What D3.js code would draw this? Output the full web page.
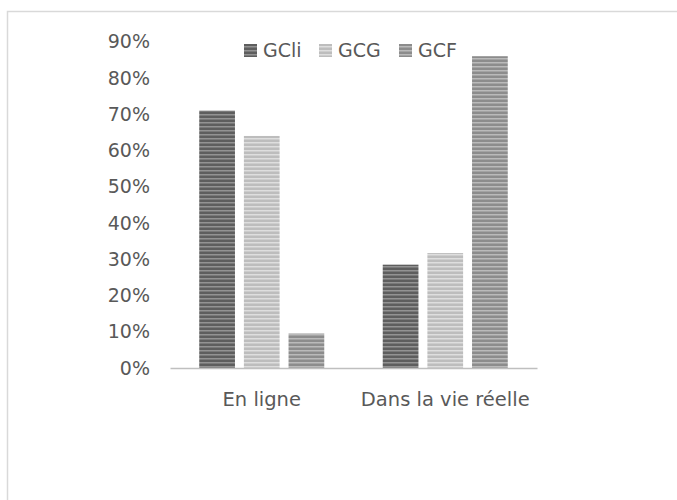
<!DOCTYPE html>
<html>
<head>
<meta charset="utf-8">
<script src="https://cdn.jsdelivr.net/npm/d3@7"></script>
<style>
  body { margin: 0; background: #fff; }
  text { font-family: "DejaVu Sans", sans-serif; fill: #595959; }
</style>
</head>
<body>
<script>
// categories and series
var categories = ['En ligne', 'Dans la vie réelle'];
var series = ['GCli', 'GCG', 'GCF'];
var gcli = [0.71, 0.285];
var gcg = [0.64, 0.317];
var gcf = [0.095, 0.86];
var yTicks = [0, 0.1, 0.2, 0.3, 0.4, 0.5, 0.6, 0.7, 0.8, 0.9];

var values = [gcli, gcg, gcf];

var width = 677,
	height = 500;

var svg = d3.select('body')
	.append('svg')
	.attr('width', width)
	.attr('height', height);

// striped fills, one per series
var stripes = [
	{ id: 'p0', base: '#5e5e5e', line: '#939393' },
	{ id: 'p1', base: '#bdbdbd', line: '#dedede' },
	{ id: 'p2', base: '#8c8c8c', line: '#bababa' }
];
var defs = svg.append('defs');
stripes.forEach(function(s) {
	var p = defs.append('pattern')
		.attr('id', s.id)
		.attr('patternUnits', 'userSpaceOnUse')
		.attr('width', 8)
		.attr('height', 4);
	p.append('rect').attr('width', 8).attr('height', 4).attr('fill', s.base);
	p.append('rect').attr('y', 2).attr('width', 8).attr('height', 1.5).attr('fill', s.line);
});

// chart frame
svg.append('rect')
	.attr('x', 7.5)
	.attr('y', 11.5)
	.attr('width', 700)
	.attr('height', 520)
	.attr('fill', 'none')
	.attr('stroke', '#d9d9d9')
	.attr('stroke-width', 1.5);

var x0 = d3.scaleBand()
	.domain(categories)
	.range([170, 537])
	.paddingInner(0.27)
	.paddingOuter(0.135);

var x1 = d3.scaleBand()
	.domain(series)
	.range([0, x0.bandwidth()])
	.paddingInner(0.2)
	.paddingOuter(0.1);

var y = d3.scaleLinear()
	.domain([0, 0.9])
	.range([368, 41.7]);

// bars
series.forEach(function(s, i) {
	svg.append('g')
		.selectAll('rect')
		.data(categories)
		.enter().append('rect')
		.attr('x', function(d) { return x0(d) + x1(s); })
		.attr('y', function(d, j) { return y(values[i][j]); })
		.attr('width', x1.bandwidth())
		.attr('height', function(d, j) { return y(0) - y(values[i][j]); })
		.attr('fill', 'url(#' + stripes[i].id + ')');
});

// y axis (labels only)
var yAxis = svg.append('g')
	.attr('transform', 'translate(150,0)')
	.call(d3.axisLeft(y).tickValues(yTicks).tickFormat(d3.format('.0%')).tickSize(0).tickPadding(0));
yAxis.select('.domain').remove();
yAxis.selectAll('text')
	.style('font-size', '19px')
	.attr('fill', '#595959');

// x axis
var xAxis = svg.append('g')
	.attr('transform', 'translate(0,' + y(0) + ')')
	.call(d3.axisBottom(x0).tickSize(0).tickPadding(24));
xAxis.select('.domain')
	.attr('stroke', '#bfbfbf')
	.attr('stroke-width', 1.5);
xAxis.selectAll('text')
	.style('font-size', '19.5px')
	.attr('fill', '#595959');

// legend
var legendX = [244, 319, 399];
var legend = svg.append('g');
series.forEach(function(s, i) {
	legend.append('rect')
		.attr('x', legendX[i])
		.attr('y', 44)
		.attr('width', 13)
		.attr('height', 13)
		.attr('fill', 'url(#' + stripes[i].id + ')');
	legend.append('text')
		.attr('x', legendX[i] + 19)
		.attr('y', 57)
		.style('font-size', '19px')
		.text(s);
});
</script>
</body>
</html>
